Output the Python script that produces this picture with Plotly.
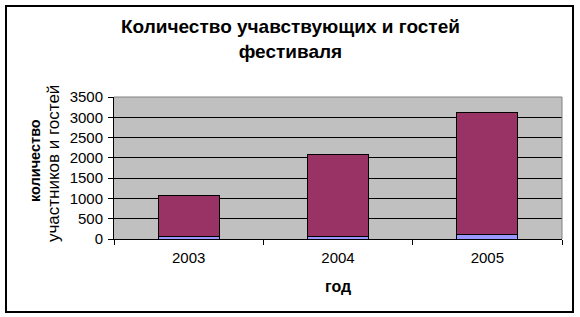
import plotly.graph_objects as go

years = ["2003", "2004", "2005"]
participants = [60, 60, 120]
guests = [1000, 2035, 3010]
y_ticks = [0, 500, 1000, 1500, 2000, 2500, 3000, 3500]

W, H = 580, 317
L, R, T, B = 114, 18, 97, 78
pw, ph = W - L - R, H - T - B

fig = go.Figure()
fig.add_trace(go.Bar(x=years, y=participants, marker=dict(color="#9999FF", line=dict(color="black", width=1)), width=0.41))
fig.add_trace(go.Bar(x=years, y=guests, marker=dict(color="#993366", line=dict(color="black", width=1)), width=0.41))

font = "Liberation Sans, Arial, sans-serif"
fig.update_layout(
    width=W, height=H, barmode="stack", showlegend=False,
    margin=dict(l=L, r=R, t=T, b=B, pad=0),
    paper_bgcolor="white", plot_bgcolor="#C0C0C0",
    font=dict(family=font, color="black", size=15),
    xaxis=dict(type="category", tickson="boundaries", ticks="outside", ticklen=5, tickcolor="black",
               showline=True, linecolor="black", linewidth=1, showgrid=False,
               tickfont=dict(size=15), ticklabelstandoff=5),
    yaxis=dict(range=[0, 3500], tickvals=y_ticks, ticks="outside", ticklen=5, tickcolor="black",
               showline=True, linecolor="black", linewidth=1, showgrid=True, gridcolor="black", gridwidth=1,
               zeroline=False, tickfont=dict(size=15), ticklabelstandoff=2),
)

def px(x):
    return (x - L) / pw

def py(y):
    return (H - B - y) / ph

shapes = [
    dict(type="rect", xref="paper", yref="paper", x0=px(6), x1=px(573), y0=py(312), y1=py(6),
         line=dict(color="black", width=2), fillcolor="rgba(0,0,0,0)", layer="below"),
    dict(type="line", xref="paper", yref="paper", x0=0, x1=1, y0=1, y1=1, line=dict(color="#808080", width=1)),
    dict(type="line", xref="paper", yref="paper", x0=1, x1=1, y0=0, y1=1, line=dict(color="#808080", width=1)),
]
fig.update_layout(shapes=shapes)

ann = [
    dict(text="<b>Количество учавствующих и гостей<br>фестиваля</b>", x=px(290), y=py(39), xref="paper", yref="paper",
         showarrow=False, font=dict(size=19), align="center", xanchor="center", yanchor="middle"),
    dict(text="<b>год</b>", x=px(338), y=py(286), xref="paper", yref="paper", showarrow=False,
         font=dict(size=16), xanchor="center", yanchor="middle"),
    dict(text="<b>количество</b>", x=px(35), y=py(161), xref="paper", yref="paper", showarrow=False,
         textangle=-90, font=dict(size=14.5), xanchor="center", yanchor="middle"),
    dict(text="участников и гостей", x=px(53), y=py(164), xref="paper", yref="paper", showarrow=False,
         textangle=-90, font=dict(size=17), xanchor="center", yanchor="middle"),
]
fig.update_layout(annotations=ann)

fig.write_html("out.html")
